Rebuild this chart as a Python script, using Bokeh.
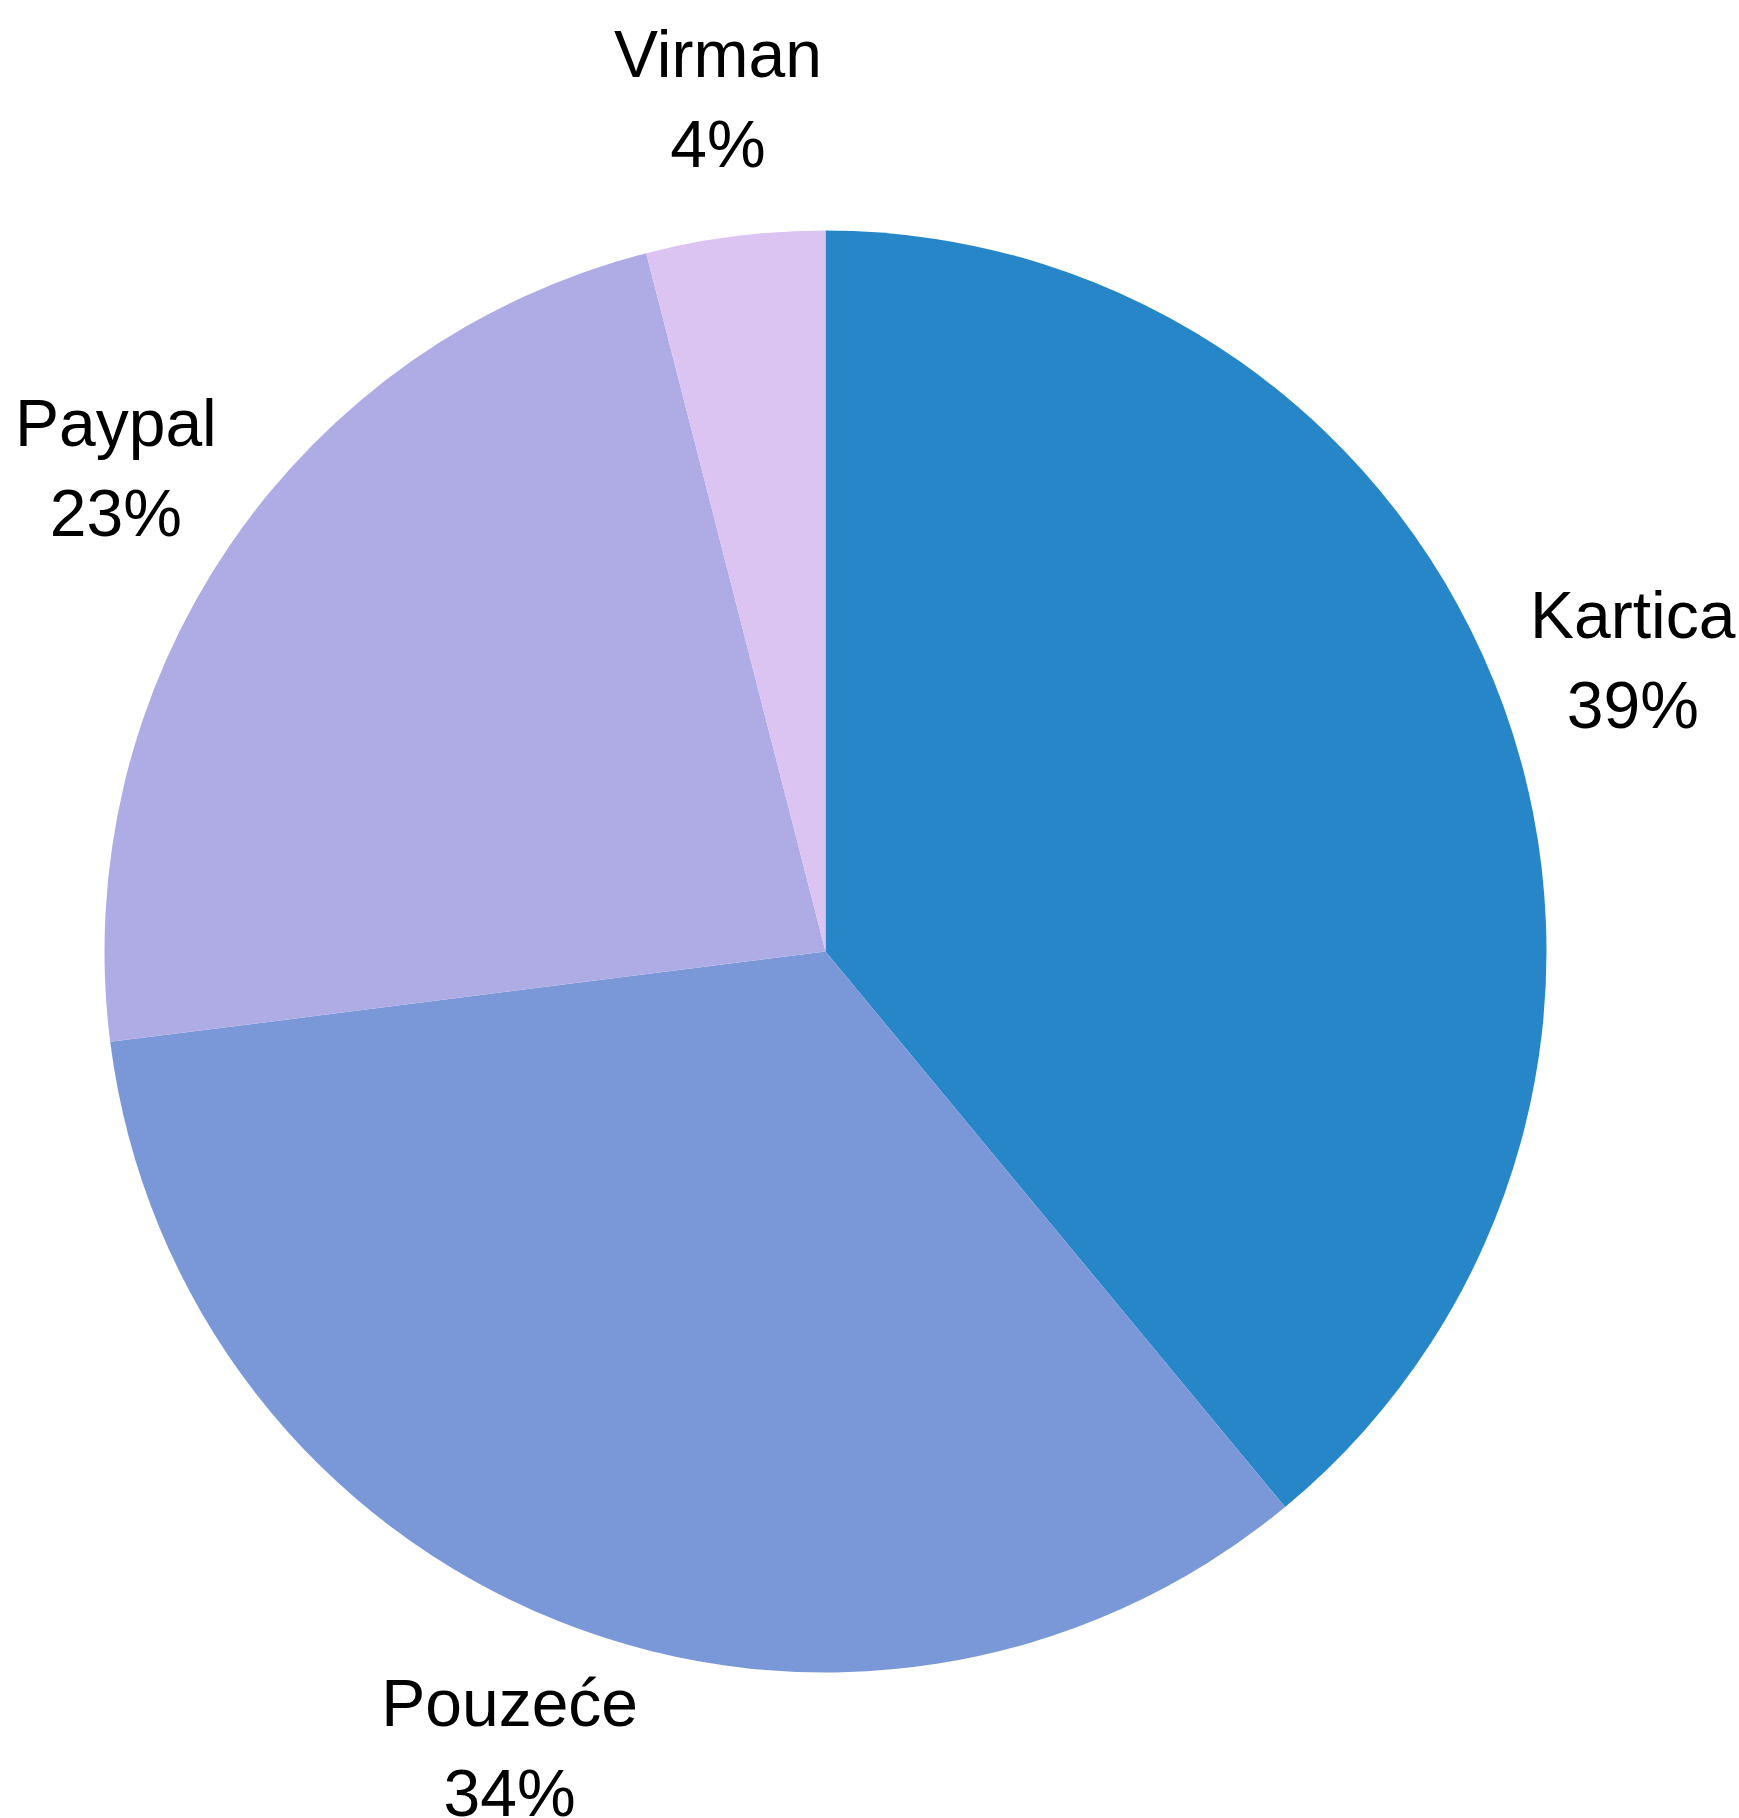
import math
from bokeh.plotting import figure
from bokeh.models import Range1d, ColumnDataSource
from bokeh.core.properties import value
from bokeh.embed import file_html
from bokeh.resources import INLINE

# Data
categories = ["Kartica", "Pouzeće", "Paypal", "Virman"]
percents = [39, 34, 23, 4]
colors = ["#2686c8", "#7a98d8", "#afabe5", "#dcc4f2"]

# Layout (pixel-like units, pie centre at 0,0)
W, H = 1739, 1818
CX, CY = 825, 951          # screen position of pie centre
R = 721
LABEL_R = 858
FONT = value("Liberation Sans")

p = figure(width=W, height=H, output_backend="svg", toolbar_location=None,
           x_range=Range1d(-CX, W - CX), y_range=Range1d(CY - H, CY),
           min_border=0)
p.axis.visible = False
p.grid.visible = False
p.outline_line_color = None
p.background_fill_color = "white"
p.border_fill_color = "white"

total = sum(percents)
starts, ends, lx, ly, names, pcts = [], [], [], [], [], []
cum = 0.0
for c, v in zip(categories, percents):
    f0 = cum / total
    f1 = (cum + v) / total
    starts.append(math.pi / 2 - 2 * math.pi * f0)
    ends.append(math.pi / 2 - 2 * math.pi * f1)
    mid = 2 * math.pi * (f0 + f1) / 2
    lx.append(LABEL_R * math.sin(mid))
    ly.append(LABEL_R * math.cos(mid))
    names.append(c)
    pcts.append(f"{v}%")
    cum += v

src = ColumnDataSource(dict(start=starts, end=ends, color=colors,
                            lx=lx, ny=[y + 46 for y in ly], py=[y - 44 for y in ly],
                            name=names, pct=pcts))

p.wedge(x=0, y=0, radius=R, start_angle="start", end_angle="end", direction="clock",
        fill_color="color", line_color=None, source=src)

p.text(x="lx", y="ny", text="name", source=src, text_font=FONT, text_font_size="66px",
       text_align="center", text_baseline="alphabetic", text_color="black")
p.text(x="lx", y="py", text="pct", source=src, text_font=FONT, text_font_size="66px",
       text_align="center", text_baseline="alphabetic", text_color="black")

open("out.html", "w").write(file_html(p, INLINE))
